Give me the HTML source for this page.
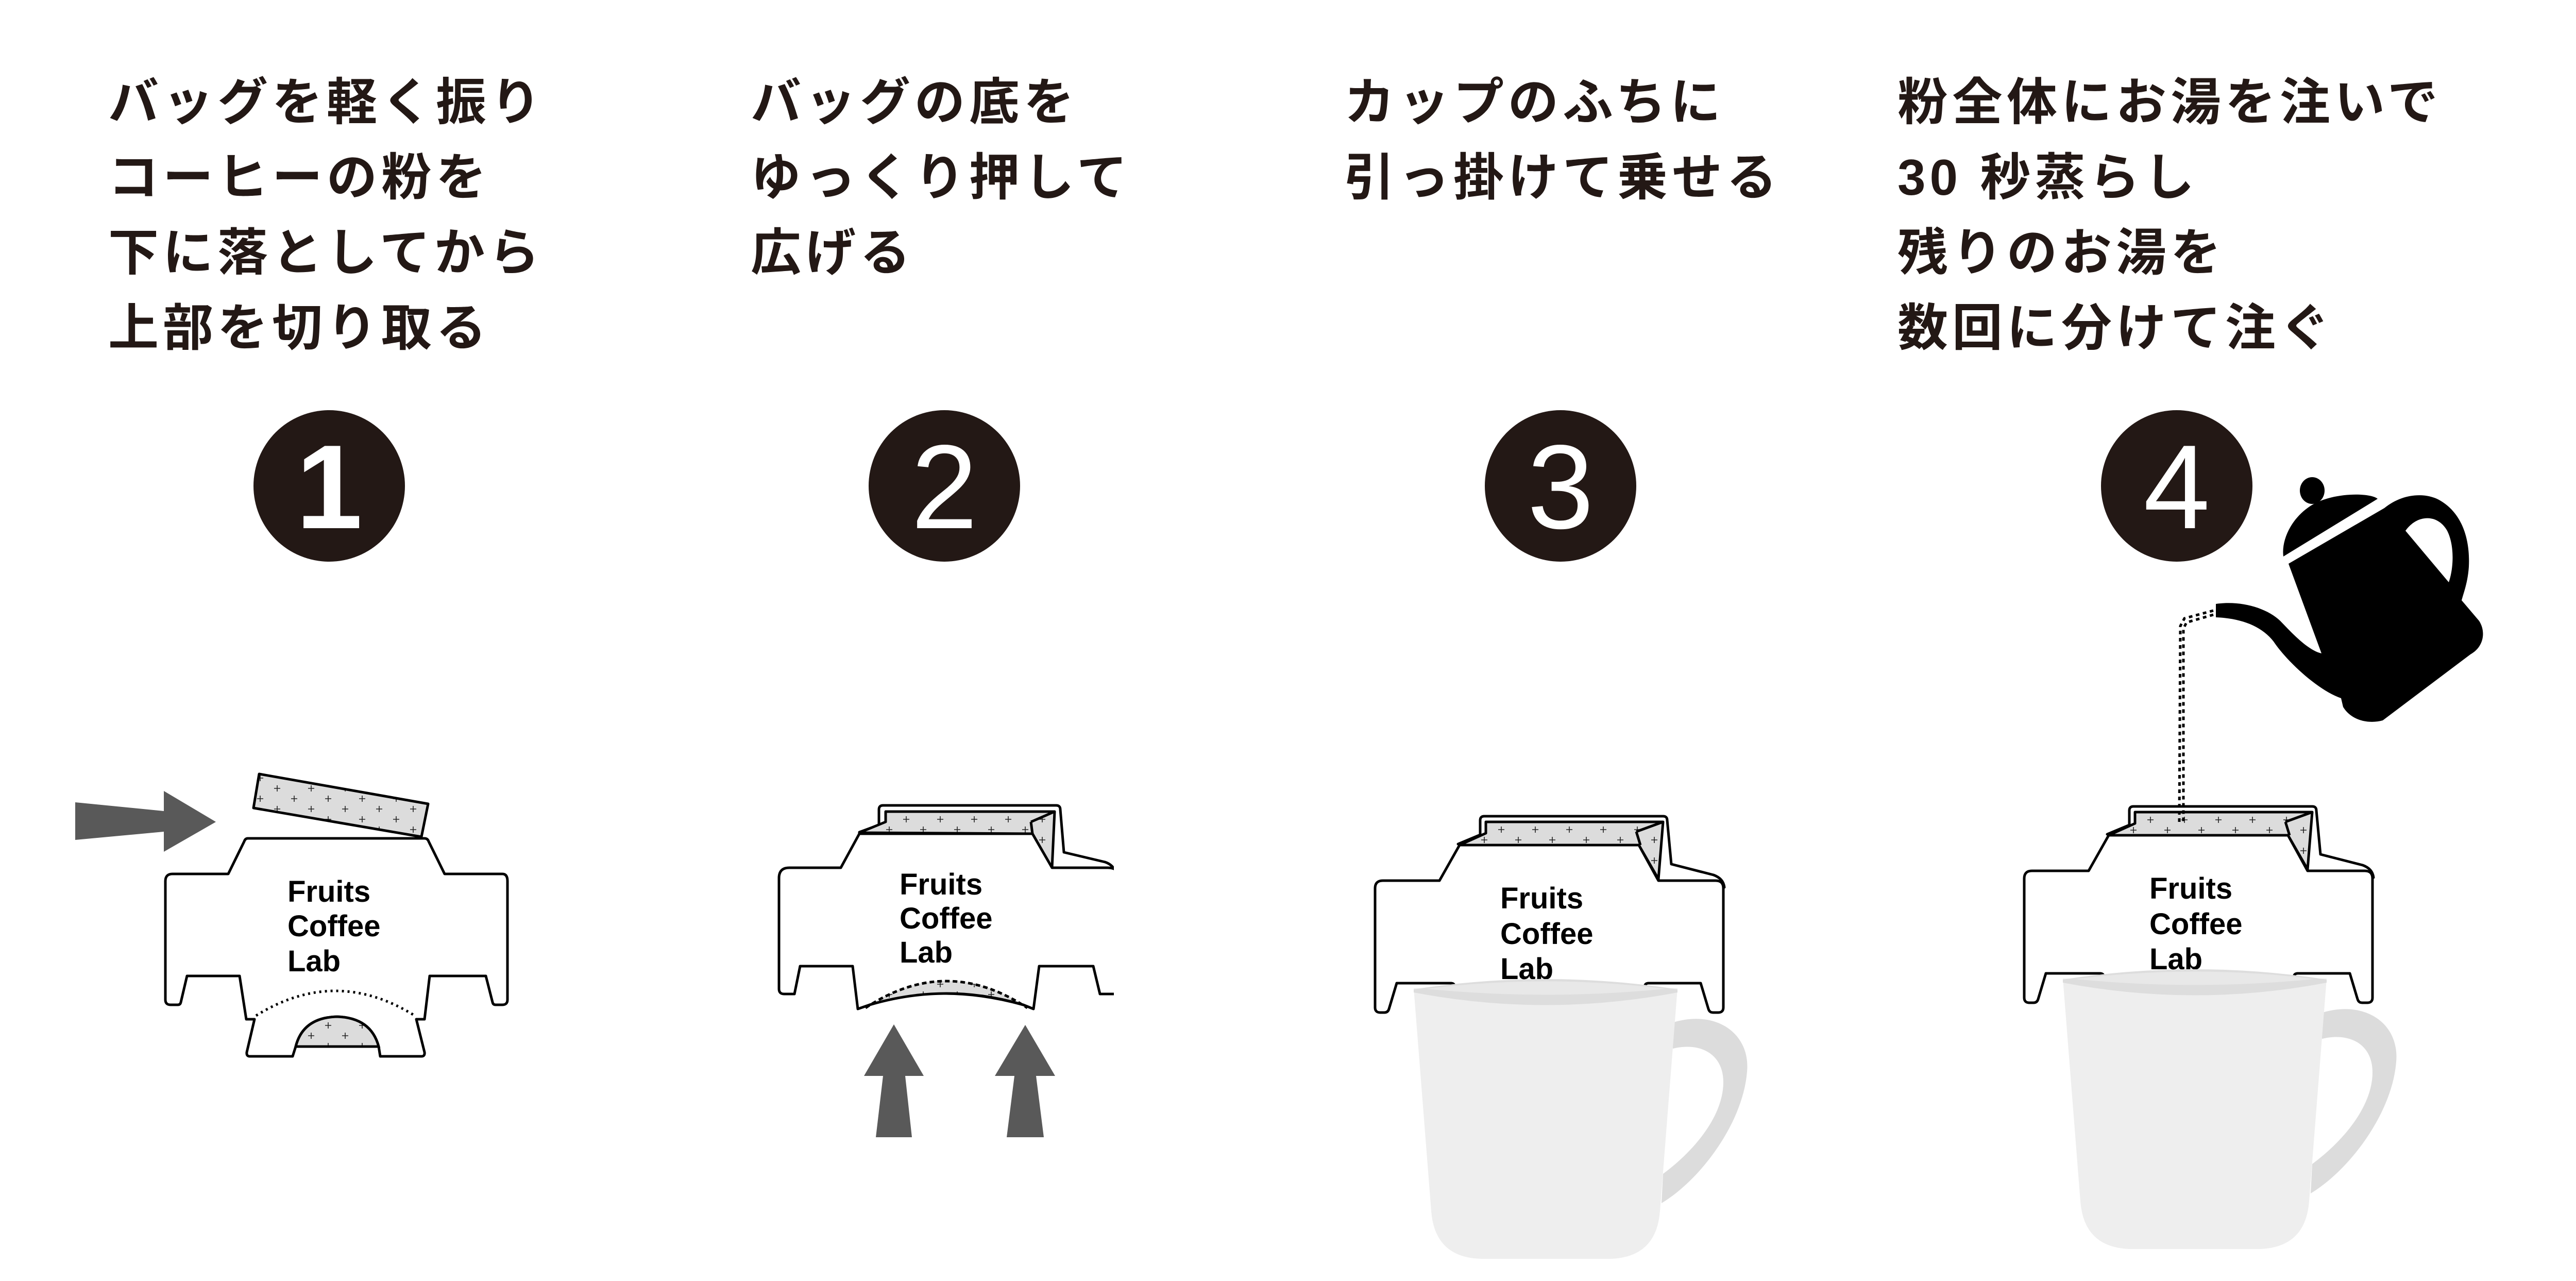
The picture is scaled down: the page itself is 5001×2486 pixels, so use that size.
<!DOCTYPE html>
<html><head><meta charset="utf-8"><style>
html,body{margin:0;padding:0;background:#fff;}
svg{display:block;}
.jp{font-family:"Liberation Sans","Noto Sans CJK JP",sans-serif;font-weight:700;font-size:98px;fill:#231815;letter-spacing:8px;}
.num{font-family:"Liberation Sans",sans-serif;font-size:232px;fill:#fff;text-anchor:middle;}
.fcl{font-family:"Liberation Sans",sans-serif;font-weight:700;font-size:58px;fill:#000;}
.o{fill:#fff;stroke:#000;stroke-width:5;stroke-linejoin:round;}
.g{fill:url(#p);stroke:#000;stroke-width:5;stroke-linejoin:round;}
</style></head><body>
<svg width="5001" height="2486" viewBox="0 0 5001 2486" xmlns="http://www.w3.org/2000/svg">
<defs>
<pattern id="p" patternUnits="userSpaceOnUse" width="66" height="40">
<rect width="66" height="40" fill="#dcdcdc"/>
<path d="M4,10h12M10,4v12M37,30h12M43,24v12" stroke="#222" stroke-width="1.6"/>
</pattern>
<clipPath id="c2"><rect x="0" y="0" width="2162" height="2486"/></clipPath>
</defs>
<rect width="5001" height="2486" fill="#fff"/>

<!-- texts -->
<text class="jp" x="210" y="232">バッグを軽く振り</text>
<text class="jp" x="210" y="378">コーヒーの粉を</text>
<text class="jp" x="210" y="524">下に落としてから</text>
<text class="jp" x="210" y="670">上部を切り取る</text>

<text class="jp" x="1457" y="232">バッグの底を</text>
<text class="jp" x="1457" y="378">ゆっくり押して</text>
<text class="jp" x="1457" y="524">広げる</text>

<text class="jp" x="2609" y="232">カップのふちに</text>
<text class="jp" x="2609" y="378">引っ掛けて乗せる</text>

<text class="jp" x="3683" y="232">粉全体にお湯を注いで</text>
<text class="jp" x="3683" y="378">30 秒蒸らし</text>
<text class="jp" x="3683" y="524">残りのお湯を</text>
<text class="jp" x="3683" y="670">数回に分けて注ぐ</text>

<!-- circles -->
<circle cx="639" cy="943" r="147" fill="#231815"/>
<text class="num" x="639" y="1025" style="font-weight:700">1</text>
<circle cx="1833" cy="943" r="147" fill="#231815"/>
<text class="num" x="1833" y="1025">2</text>
<circle cx="3029" cy="943" r="147" fill="#231815"/>
<text class="num" x="3029" y="1025">3</text>
<circle cx="4225" cy="943" r="147" fill="#231815"/>
<text class="num" x="4225" y="1025">4</text>

<!-- STEP 1 -->
<polygon points="146,1557 318,1574 318,1535 419,1595 318,1653 318,1614 146,1630" fill="#595959"/>
<polygon class="g" points="503,1502 831,1560 818,1624 492,1568"/>
<path class="o" d="M481,1627 L824,1627 Q830,1627 832,1633 L863,1696 L975,1696 Q985,1696 985,1710 L985,1940 Q985,1950 975,1950 L962,1950 Q957,1950 956,1945 L943,1894 L834,1894 L824,1978 L808,1978 L824,2042 Q825,2050 818,2050 L738,2050 L735,2031 Q720,1975 654,1973 Q588,1975 574,2031 L568,2050 L485,2050 Q478,2050 479,2042 L494,1978 L478,1978 L465,1894 L363,1894 L351,1945 Q350,1950 345,1950 L331,1950 Q321,1950 321,1940 L321,1710 Q321,1696 335,1696 L443,1696 L474,1633 Q476,1627 481,1627 Z"/>
<path d="M574,2031 Q588,1975 654,1973 Q720,1975 735,2031 Z" fill="url(#p)" stroke="#000" stroke-width="5"/>
<path d="M497,1971 Q651,1875 805,1971" fill="none" stroke="#000" stroke-width="5" stroke-dasharray="4,7"/>
<text class="fcl" x="558" y="1750">Fruits</text>
<text class="fcl" x="558" y="1817">Coffee</text>
<text class="fcl" x="558" y="1885">Lab</text>

<!-- STEP 2 -->
<g clip-path="url(#c2)">
<path class="o" d="M1668,1615 L1706,1601 L1706,1571 Q1706,1563 1714,1563 L2050,1563 Q2058,1563 2058,1571 L2065,1654 L2145,1673 Q2165,1680 2166,1700 L2166,1730 L2042,1684 Z"/>
<path class="g" d="M1668,1616 L1719,1595 L1719,1575 L2047,1575 L2042,1684 L2004,1618 Z"/>
<path d="M2001,1595 L2047,1575 M2001,1595 L2004,1618 M1668,1618 L2004,1618" stroke="#000" stroke-width="5" fill="none"/>
<path class="o" d="M1668,1618 L2004,1618 L2042,1684 L2150,1684 Q2172,1684 2172,1704 L2172,1929 L2135,1929 L2122,1875 L2017,1875 L2006,1958 L1986,1950 Q1827,1906 1688,1950 L1665,1958 L1655,1875 L1553,1875 L1542,1929 L1522,1929 Q1512,1929 1512,1919 L1512,1704 Q1512,1684 1532,1684 L1632,1684 Z"/>
</g>
<path d="M1688,1950 Q1837,1856 1986,1950 Q1837,1906 1688,1950 Z" fill="url(#p)"/>
<path d="M1688,1950 Q1837,1906 1986,1950" fill="none" stroke="#000" stroke-width="5"/>
<path d="M1680,1956 Q1837,1852 1994,1956" fill="none" stroke="#000" stroke-width="5" stroke-dasharray="9,6"/>
<text class="fcl" x="1746" y="1736">Fruits</text>
<text class="fcl" x="1746" y="1802">Coffee</text>
<text class="fcl" x="1746" y="1868">Lab</text>
<polygon points="1735,1988 1793,2088 1757,2088 1770,2207 1700,2207 1714,2088 1677,2088" fill="#595959"/>
<polygon points="1990,1989 2048,2088 2011,2088 2026,2207 1954,2207 1969,2088 1931,2088" fill="#595959"/>

<!-- STEP 3 -->
<g id="s3">
<path d="M3245,1985 C3330,1958 3398,2005 3391,2080 C3383,2180 3300,2290 3225,2335 L3228,2278 C3290,2232 3345,2165 3345,2100 C3345,2045 3300,2022 3247,2035 Z" fill="#dcdcdc"/>
<path class="o" d="M2830,1638 L2873,1620 L2873,1592 Q2873,1584 2881,1584 L3228,1584 Q3236,1584 3236,1592 L3244,1677 L3326,1698 Q3345,1705 3347,1722 L3219,1709 Z"/>
<path class="g" d="M2833,1640 L2884,1617 L2884,1595 L3228,1595 L3219,1706 L3181,1640 Z"/>
<path d="M3176,1614 L3228,1595 M3176,1614 L3184,1640" stroke="#000" stroke-width="5" fill="none"/>
<path class="o" d="M2833,1640 L3181,1640 L3219,1709 L3330,1709 Q3345,1709 3345,1724 L3345,1955 Q3345,1965 3335,1965 L3325,1965 Q3318,1965 3316,1958 L3301,1908 L3200,1908 Q3193,1908 3192,1915 L3185,2000 L2830,2000 L2824,1915 Q2823,1908 2816,1908 L2711,1908 L2696,1958 Q2694,1965 2687,1965 L2679,1965 Q2669,1965 2669,1955 L2669,1724 Q2669,1709 2684,1709 L2794,1709 Z"/>
<path d="M2920,1950 Q3000,1915 3090,1950" fill="none" stroke="#000" stroke-width="5" stroke-dasharray="8,5"/>
<text class="fcl" x="2912" y="1763">Fruits</text>
<text class="fcl" x="2912" y="1832">Coffee</text>
<text class="fcl" x="2912" y="1900">Lab</text>
<path d="M2744,1918 L3256,1918 L3222,2350 Q3215,2443 3120,2443 L2880,2443 Q2785,2443 2778,2350 Z" fill="#eeeeee"/>
<path d="M2744,1920 Q3000,1880 3256,1920 L3256,1926 Q3000,1975 2744,1926 Z" fill="#dddddd"/>
<path d="M2768,1919 Q3000,1890 3232,1919 Q3000,1942 2768,1919 Z" fill="#e8e8e8"/>
</g>

<!-- STEP 4 -->
<g transform="translate(1260,-19)">
<path d="M3245,1985 C3330,1958 3398,2005 3391,2080 C3383,2180 3300,2290 3225,2335 L3228,2278 C3290,2232 3345,2165 3345,2100 C3345,2045 3300,2022 3247,2035 Z" fill="#dcdcdc"/>
<path class="o" d="M2830,1638 L2873,1620 L2873,1592 Q2873,1584 2881,1584 L3228,1584 Q3236,1584 3236,1592 L3244,1677 L3326,1698 Q3345,1705 3347,1722 L3219,1709 Z"/>
<path class="g" d="M2833,1640 L2884,1617 L2884,1595 L3228,1595 L3219,1706 L3181,1640 Z"/>
<path d="M3176,1614 L3228,1595 M3176,1614 L3184,1640" stroke="#000" stroke-width="5" fill="none"/>
<path class="o" d="M2833,1640 L3181,1640 L3219,1709 L3330,1709 Q3345,1709 3345,1724 L3345,1955 Q3345,1965 3335,1965 L3325,1965 Q3318,1965 3316,1958 L3301,1908 L3200,1908 Q3193,1908 3192,1915 L3185,2000 L2830,2000 L2824,1915 Q2823,1908 2816,1908 L2711,1908 L2696,1958 Q2694,1965 2687,1965 L2679,1965 Q2669,1965 2669,1955 L2669,1724 Q2669,1709 2684,1709 L2794,1709 Z"/>
<path d="M2920,1950 Q3000,1915 3090,1950" fill="none" stroke="#000" stroke-width="5" stroke-dasharray="8,5"/>
<text class="fcl" x="2912" y="1763">Fruits</text>
<text class="fcl" x="2912" y="1832">Coffee</text>
<text class="fcl" x="2912" y="1900">Lab</text>
<path d="M2744,1918 L3256,1918 L3222,2350 Q3215,2443 3120,2443 L2880,2443 Q2785,2443 2778,2350 Z" fill="#eeeeee"/>
<path d="M2744,1920 Q3000,1880 3256,1920 L3256,1926 Q3000,1975 2744,1926 Z" fill="#dddddd"/>
<path d="M2768,1919 Q3000,1890 3232,1919 Q3000,1942 2768,1919 Z" fill="#e8e8e8"/>
</g>

<!-- kettle -->
<g fill="#000">
<ellipse cx="4488" cy="952" rx="24" ry="26"/>
<path d="M4432,1080 L4615,968 C4600,955 4520,955 4480,985 C4445,1010 4428,1050 4432,1080 Z"/>
<path fill-rule="evenodd" d="M4442,1094 L4628,986 C4660,960 4700,955 4730,968 C4775,990 4795,1040 4792,1100 C4790,1130 4782,1150 4778,1165 L4812,1205 C4825,1225 4822,1255 4795,1270 L4625,1398 C4600,1405 4565,1400 4548,1372 L4544,1355 C4500,1340 4440,1285 4413,1245 C4390,1215 4350,1200 4301,1198 L4301,1172 C4350,1165 4400,1180 4426,1205 C4450,1230 4480,1262 4506,1268 Z M4669,1030 C4690,1000 4730,995 4750,1030 C4765,1060 4762,1105 4753,1130 Z"/>
</g>
<path d="M4296,1185 L4240,1200 L4232,1215 L4230,1595 M4296,1193 L4244,1208 L4238,1220 L4238,1595" fill="none" stroke="#000" stroke-width="5" stroke-dasharray="7,7"/>
</svg>
</body></html>
